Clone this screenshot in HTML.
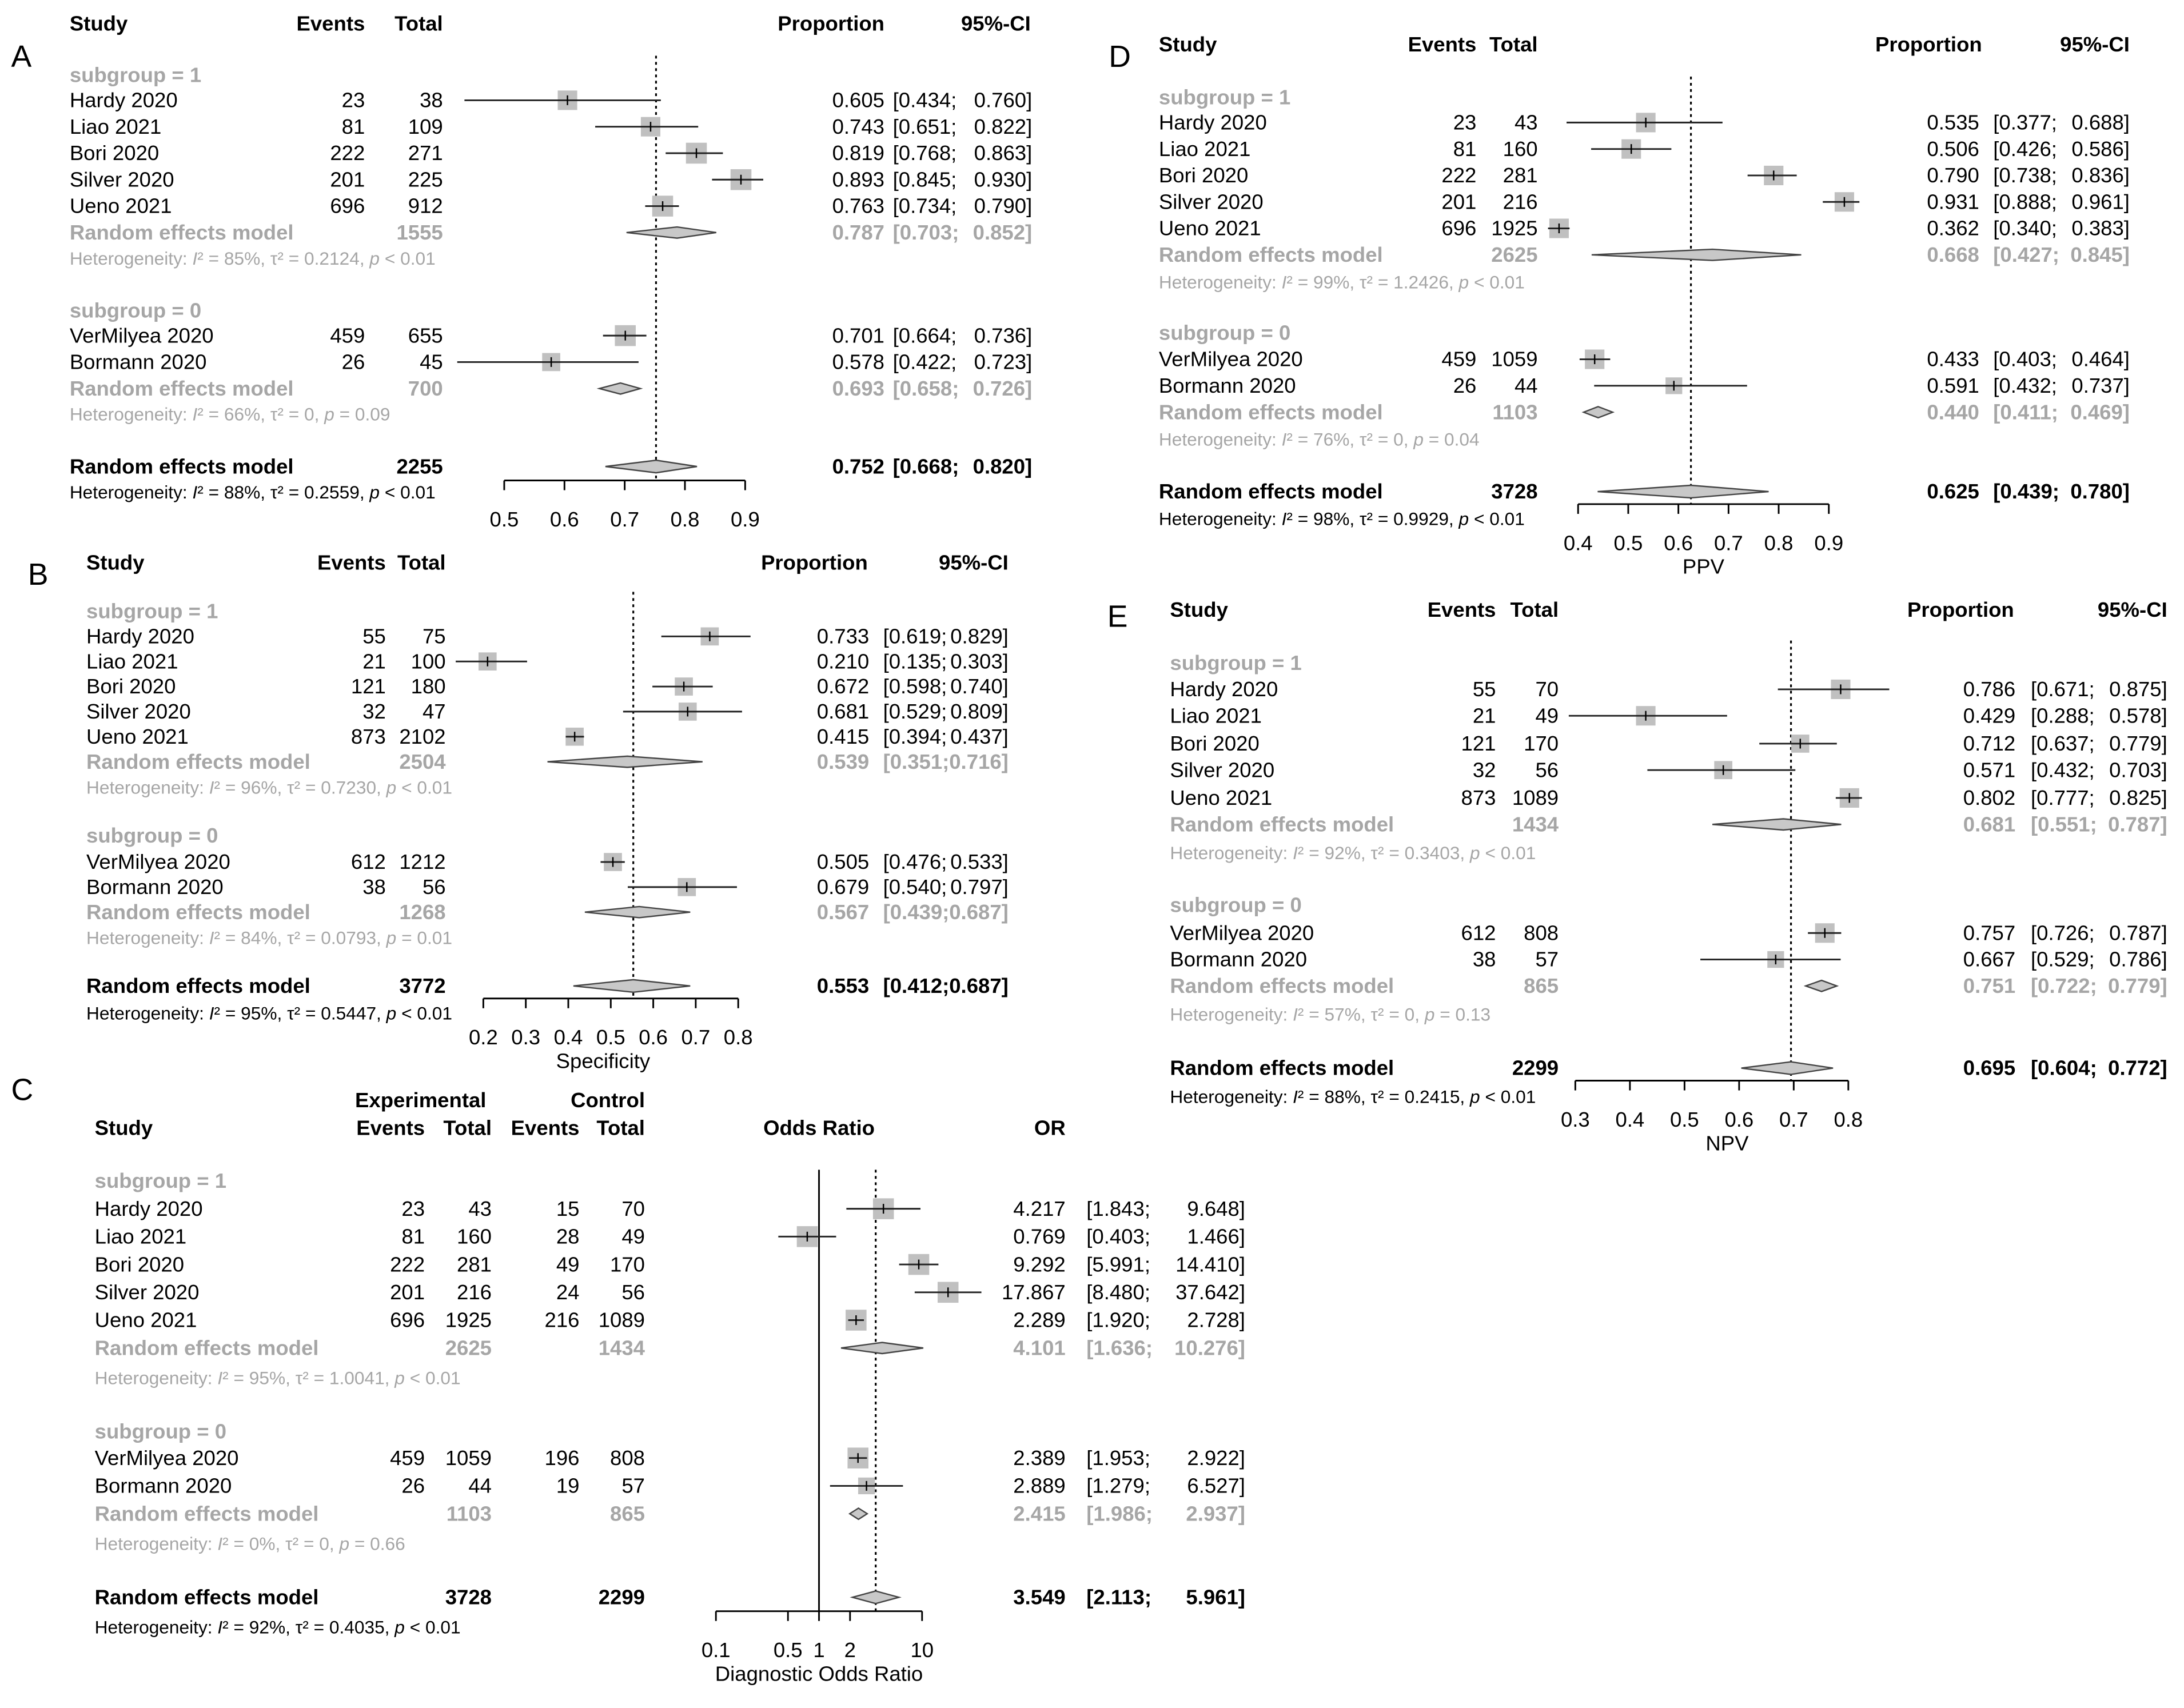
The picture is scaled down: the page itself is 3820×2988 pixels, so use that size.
<!DOCTYPE html>
<html><head><meta charset="utf-8">
<style>
html,body{margin:0;padding:0;background:#fff;}
svg{display:block;}
text{font-family:"Liberation Sans",Arial,sans-serif;}
</style></head>
<body>
<svg id="chart" xmlns="http://www.w3.org/2000/svg" width="3820" height="2988" viewBox="0 0 1568 1226.5"></svg>
<script>
// ---- shared ----
const studies = ["Hardy 2020","Liao 2021","Bori 2020","Silver 2020","Ueno 2021","VerMilyea 2020","Bormann 2020"];
// ---- Panel A ----
const aEvents=[23,81,222,201,696,459,26];
const aTotals=[38,109,271,225,912,655,45];
const aEst=[0.605,0.743,0.819,0.893,0.763,0.701,0.578];
const aLo=[0.434,0.651,0.768,0.845,0.734,0.664,0.422];
const aHi=[0.760,0.822,0.863,0.930,0.790,0.736,0.723];
const aReEst=[0.787,0.693,0.752];
const aReLo=[0.703,0.658,0.668];
const aReHi=[0.852,0.726,0.820];
const aReTot=[1555,700,2255];
const aHetI=["85%","66%","88%"];
const aHetT=["0.2124","0","0.2559"];
const aHetP=["< 0.01","= 0.09","< 0.01"];
const aTicks=[0.5,0.6,0.7,0.8,0.9];
// ---- Panel B ----
const bEvents=[55,21,121,32,873,612,38];
const bTotals=[75,100,180,47,2102,1212,56];
const bEst=[0.733,0.210,0.672,0.681,0.415,0.505,0.679];
const bLo=[0.619,0.135,0.598,0.529,0.394,0.476,0.540];
const bHi=[0.829,0.303,0.740,0.809,0.437,0.533,0.797];
const bReEst=[0.539,0.567,0.553];
const bReLo=[0.351,0.439,0.412];
const bReHi=[0.716,0.687,0.687];
const bReTot=[2504,1268,3772];
const bHetI=["96%","84%","95%"];
const bHetT=["0.7230","0.0793","0.5447"];
const bHetP=["< 0.01","= 0.01","< 0.01"];
const bTicks=[0.2,0.3,0.4,0.5,0.6,0.7,0.8];
// ---- Panel D ----
const dEvents=[23,81,222,201,696,459,26];
const dTotals=[43,160,281,216,1925,1059,44];
const dEst=[0.535,0.506,0.790,0.931,0.362,0.433,0.591];
const dLo=[0.377,0.426,0.738,0.888,0.340,0.403,0.432];
const dHi=[0.688,0.586,0.836,0.961,0.383,0.464,0.737];
const dReEst=[0.668,0.440,0.625];
const dReLo=[0.427,0.411,0.439];
const dReHi=[0.845,0.469,0.780];
const dReTot=[2625,1103,3728];
const dHetI=["99%","76%","98%"];
const dHetT=["1.2426","0","0.9929"];
const dHetP=["< 0.01","= 0.04","< 0.01"];
const dTicks=[0.4,0.5,0.6,0.7,0.8,0.9];
// ---- Panel E ----
const eEvents=[55,21,121,32,873,612,38];
const eTotals=[70,49,170,56,1089,808,57];
const eEst=[0.786,0.429,0.712,0.571,0.802,0.757,0.667];
const eLo=[0.671,0.288,0.637,0.432,0.777,0.726,0.529];
const eHi=[0.875,0.578,0.779,0.703,0.825,0.787,0.786];
const eReEst=[0.681,0.751,0.695];
const eReLo=[0.551,0.722,0.604];
const eReHi=[0.787,0.779,0.772];
const eReTot=[1434,865,2299];
const eHetI=["92%","57%","88%"];
const eHetT=["0.3403","0","0.2415"];
const eHetP=["< 0.01","= 0.13","< 0.01"];
const eTicks=[0.3,0.4,0.5,0.6,0.7,0.8];
// ---- Panel C ----
const cExpEvents=[23,81,222,201,696,459,26];
const cExpTotals=[43,160,281,216,1925,1059,44];
const cCtlEvents=[15,28,49,24,216,196,19];
const cCtlTotals=[70,49,170,56,1089,808,57];
const cEst=[4.217,0.769,9.292,17.867,2.289,2.389,2.889];
const cLo=[1.843,0.403,5.991,8.480,1.920,1.953,1.279];
const cHi=[9.648,1.466,14.410,37.642,2.728,2.922,6.527];
const cReEst=[4.101,2.415,3.549];
const cReLo=[1.636,1.986,2.113];
const cReHi=[10.276,2.937,5.961];
const cReExpTot=[2625,1103,3728];
const cReCtlTot=[1434,865,2299];
const cHetI=["95%","0%","92%"];
const cHetT=["1.0041","0","0.4035"];
const cHetP=["< 0.01","= 0.66","< 0.01"];
const cTicks=[0.1,0.5,1,2,10];
const cTickLabels=["0.1","0.5","1","2","10"];

const NS="http://www.w3.org/2000/svg";
const svg=document.getElementById('chart');
const GRAY="#a6a6a6";
function el(tag,attrs,parent){const e=document.createElementNS(NS,tag);for(const k in attrs)e.setAttribute(k,attrs[k]);(parent||svg).appendChild(e);return e;}
function txt(x,y,s,opt,parent){
  opt=opt||{};
  const t=el('text',{x:x,y:y,'font-size':opt.size||15,fill:opt.fill||'#000','text-anchor':opt.anchor||'start','font-weight':opt.bold?'bold':'normal'},parent);
  t.textContent=s;
  
  
  return t;
}
function hetText(x,y,I,T,P,fill,parent){
  const t=el('text',{x:x,y:y,'font-size':13,fill:fill},parent);
  
  
  const parts=[["Heterogeneity: ",""],["I","i"],["²",""],[" = "+I+", τ² = "+T+", ",""],["p","i"],[" "+P,""]];
  parts.forEach(p=>{const s=document.createElementNS(NS,'tspan');if(p[1]==='i')s.setAttribute('font-style','italic');s.textContent=p[0];t.appendChild(s);});
  return t;
}
function fmt(v){return v.toFixed(3);}

function drawPanel(cfg,d){
  const g=el('g',{});
  
  
  const X=cfg.xf;
  txt(cfg.letterX,cfg.letterY,cfg.letter,{size:22,name:'panel-letter'},g);
  cfg.headers.forEach(h=>txt(h[0],h[1],h[2],{bold:true,anchor:h[3]||'start',name:'column-header'},g));
  const refX=X(d.reEst[2]);
  const dl=el('line',{x1:refX,x2:refX,y1:cfg.refTop,y2:cfg.axisY,stroke:'#000','stroke-width':1.3,'stroke-dasharray':'2,2.5'},g);
  
  
  if(cfg.nullX!==undefined){
    const nl=el('line',{x1:X(cfg.nullX),x2:X(cfg.nullX),y1:cfg.refTop,y2:cfg.axisY,stroke:'#000','stroke-width':1.2},g);
    
    
  }
  const subY=[cfg.y.sub1,cfg.y.sub0];
  const studyY=cfg.y.studies;
  [0,1].forEach(gi=>{
    txt(cfg.col.study,subY[gi],gi===0?"subgroup = 1":"subgroup = 0",{bold:true,fill:GRAY,name:'subgroup-label'},g);
  });
  for(let i=0;i<7;i++){
    const y=studyY[i];
    txt(cfg.col.study,y,studies[i],{name:'study-name'},g);
    cfg.countCols.forEach(cc=>txt(cc[0],y,String(cc[1][i]),{anchor:'end',name:'count-value'},g));
    txt(cfg.col.val,y,fmt(d.est[i]),{anchor:'end',name:'estimate-value'},g);
    txt(cfg.col.ci,y,"["+fmt(d.lo[i])+";",{name:'ci-lower'},g);
    txt(cfg.col.ciEnd,y,fmt(d.hi[i])+"]",{anchor:'end',name:'ci-upper'},g);
    const cy=y-5, s=d.size?d.size[i]:14;
    const sq=el('rect',{x:X(d.est[i])-s/2,y:cy-s/2,width:s,height:s,fill:'#c0c0c0'},g);
    
    
    const ln=el('line',{x1:X(d.lo[i]),x2:X(d.hi[i]),y1:cy,y2:cy,stroke:'#222','stroke-width':1.2},g);
    
    
    const tk=el('line',{x1:X(d.est[i]),x2:X(d.est[i]),y1:cy-3.5,y2:cy+3.5,stroke:'#000','stroke-width':1},g);
    
    
  }
  for(let k=0;k<3;k++){
    const y=cfg.y.re[k], overall=k===2, fill=overall?'#000':GRAY;
    txt(cfg.col.study,y,"Random effects model",{bold:true,fill:fill,name:'random-effects-label'},g);
    cfg.reCountCols.forEach(cc=>txt(cc[0],y,String(cc[1][k]),{anchor:'end',bold:true,fill:fill,name:'pooled-total'},g));
    txt(cfg.col.val,y,fmt(d.reEst[k]),{anchor:'end',bold:true,fill:fill,name:'pooled-estimate-value'},g);
    txt(cfg.col.ci,y,"["+fmt(d.reLo[k])+";",{bold:true,fill:fill,name:'pooled-ci-lower'},g);
    txt(cfg.col.ciEnd,y,fmt(d.reHi[k])+"]",{anchor:'end',bold:true,fill:fill,name:'pooled-ci-upper'},g);
    const cy=y-5,h=overall?4.5:4;
    const dm=el('polygon',{points:[X(d.reLo[k])+','+cy,X(d.reEst[k])+','+(cy-h),X(d.reHi[k])+','+cy,X(d.reEst[k])+','+(cy+h)].join(' '),fill:'#c8c8c8',stroke:'#444','stroke-width':1},g);
    
    
    hetText(cfg.col.study,cfg.y.het[k],d.hetI[k],d.hetT[k],d.hetP[k],overall?'#000':GRAY,g);
  }
  const ax=el('line',{x1:X(cfg.ticks[0]),x2:X(cfg.ticks[cfg.ticks.length-1]),y1:cfg.axisY,y2:cfg.axisY,stroke:'#000','stroke-width':1.2},g);
  
  
  cfg.ticks.forEach((t,i)=>{
    const tl=el('line',{x1:X(t),x2:X(t),y1:cfg.axisY,y2:cfg.axisY+7,stroke:'#000','stroke-width':1.2},g);
    
    
    txt(X(t),cfg.axisY+33,cfg.tickLabels?cfg.tickLabels[i]:String(t),{anchor:'middle',name:'x-tick-label'},g);
  });
  if(cfg.axisTitle) txt(cfg.axisTitleX,cfg.axisY+50,cfg.axisTitle,{anchor:'middle',name:'x-axis-title'},g);
}

function linX(v0,x0,v1,x1){return v=>x0+(v-v0)*(x1-x0)/(v1-v0);}

drawPanel({name:'panel-a-sensitivity',letter:'A',letterX:8,letterY:48,xf:linX(0.5,362,0.9,535),
  headers:[[50,22,'Study'],[262,22,'Events','end'],[318,22,'Total','end'],[635,22,'Proportion','end'],[740,22,'95%-CI','end']],
  col:{study:50,val:635,ci:641,ciEnd:741},
  countCols:[[262,aEvents],[318,aTotals]],reCountCols:[[318,aReTot]],
  y:{sub1:59,studies:[77,96,115,134,153,246,265],re:[172,284,340],het:[190,302,358],sub0:228},
  refTop:40,axisY:345,ticks:aTicks,axisTitle:null},
  {est:aEst,lo:aLo,hi:aHi,reEst:aReEst,reLo:aReLo,reHi:aReHi,hetI:aHetI,hetT:aHetT,hetP:aHetP,size:[14,14,15,15,15,15,13]});

drawPanel({name:'panel-b-specificity',letter:'B',letterX:20,letterY:420,xf:linX(0.2,347,0.8,530),
  headers:[[62,409,'Study'],[277,409,'Events','end'],[320,409,'Total','end'],[623,409,'Proportion','end'],[724,409,'95%-CI','end']],
  col:{study:62,val:624,ci:634,ciEnd:724},
  countCols:[[277,bEvents],[320,bTotals]],reCountCols:[[320,bReTot]],
  y:{sub1:444,studies:[462,480,498,516,534,624,642],re:[552,660,713],het:[570,678,732],sub0:605},
  refTop:425,axisY:717,ticks:bTicks,axisTitle:'Specificity',axisTitleX:433},
  {est:bEst,lo:bLo,hi:bHi,reEst:bReEst,reLo:bReLo,reHi:bReHi,hetI:bHetI,hetT:bHetT,hetP:bHetP,size:[13,13,13,13,13,13,13]});

drawPanel({name:'panel-d-ppv',letter:'D',letterX:796,letterY:48,xf:linX(0.4,1133,0.9,1313),
  headers:[[832,37,'Study'],[1060,37,'Events','end'],[1104,37,'Total','end'],[1423,37,'Proportion','end'],[1529,37,'95%-CI','end']],
  col:{study:832,val:1421,ci:1431,ciEnd:1529},
  countCols:[[1060,dEvents],[1104,dTotals]],reCountCols:[[1104,dReTot]],
  y:{sub1:75,studies:[93,112,131,150,169,263,282],re:[188,301,358],het:[207,320,377],sub0:244},
  refTop:55,axisY:362,ticks:dTicks,axisTitle:'PPV',axisTitleX:1223},
  {est:dEst,lo:dLo,hi:dHi,reEst:dReEst,reLo:dReLo,reHi:dReHi,hetI:dHetI,hetT:dHetT,hetP:dHetP,size:[14,14,14,14,14,14,12]});

drawPanel({name:'panel-e-npv',letter:'E',letterX:795,letterY:450,xf:linX(0.3,1131,0.8,1327),
  headers:[[840,443,'Study'],[1074,443,'Events','end'],[1119,443,'Total','end'],[1446,443,'Proportion','end'],[1556,443,'95%-CI','end']],
  col:{study:840,val:1447,ci:1458,ciEnd:1556},
  countCols:[[1074,eEvents],[1119,eTotals]],reCountCols:[[1119,eReTot]],
  y:{sub1:481,studies:[500,519,539,558,578,675,694],re:[597,713,772],het:[617,733,792],sub0:655},
  refTop:460,axisY:776,ticks:eTicks,axisTitle:'NPV',axisTitleX:1240},
  {est:eEst,lo:eLo,hi:eHi,reEst:eReEst,reLo:eReLo,reHi:eReHi,hetI:eHetI,hetT:eHetT,hetP:eHetP,size:[14,14,13,13,14,14,12]});

const cX=v=>588+74*Math.log10(v);
txt(302,795,'Experimental',{bold:true,anchor:'middle',name:'experimental-group-header'});
txt(463,795,'Control',{bold:true,anchor:'end',name:'control-group-header'});
drawPanel({name:'panel-c-diagnostic-odds-ratio',letter:'C',letterX:8,letterY:790,xf:cX,
  headers:[[68,815,'Study'],[305,815,'Events','end'],[353,815,'Total','end'],[416,815,'Events','end'],[463,815,'Total','end'],[588,815,'Odds Ratio','middle'],[765,815,'OR','end']],
  col:{study:68,val:765,ci:780,ciEnd:894},
  countCols:[[305,cExpEvents],[353,cExpTotals],[416,cCtlEvents],[463,cCtlTotals]],reCountCols:[[353,cReExpTot],[463,cReCtlTot]],
  y:{sub1:853,studies:[873,893,913,933,953,1052,1072],re:[973,1092,1152],het:[994,1113,1173],sub0:1033},
  refTop:840,nullX:1,axisY:1157,ticks:cTicks,tickLabels:cTickLabels,axisTitle:'Diagnostic Odds Ratio',axisTitleX:588},
  {est:cEst,lo:cLo,hi:cHi,reEst:cReEst,reLo:cReLo,reHi:cReHi,hetI:cHetI,hetT:cHetT,hetP:cHetP,size:[15,15,15,15,15,15,12]});
</script>
</body></html>
